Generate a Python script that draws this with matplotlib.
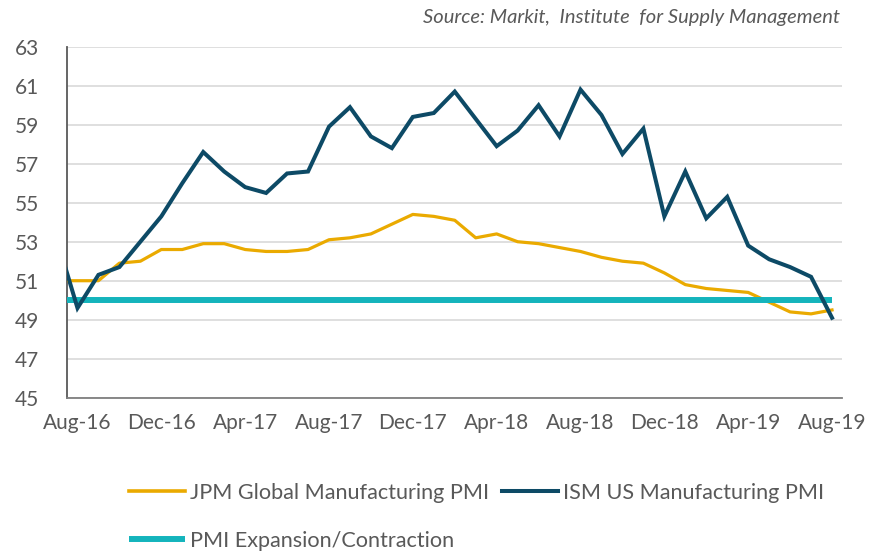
import matplotlib
matplotlib.use("Agg")
import matplotlib.pyplot as plt
import numpy as np

plt.rcParams['font.family'] = ['Lato', 'DejaVu Sans']

# Monthly index: Jul-16 = -1, Aug-16 = 0 ... Aug-19 = 36
months = ["Jul-16", "Aug-16", "Sep-16", "Oct-16", "Nov-16", "Dec-16",
          "Jan-17", "Feb-17", "Mar-17", "Apr-17", "May-17", "Jun-17", "Jul-17", "Aug-17",
          "Sep-17", "Oct-17", "Nov-17", "Dec-17", "Jan-18", "Feb-18", "Mar-18", "Apr-18",
          "May-18", "Jun-18", "Jul-18", "Aug-18", "Sep-18", "Oct-18", "Nov-18", "Dec-18",
          "Jan-19", "Feb-19", "Mar-19", "Apr-19", "May-19", "Jun-19", "Jul-19", "Aug-19"]

jpm_global = [51.0, 51.0, 51.0, 51.9, 52.0, 52.6,
              52.6, 52.9, 52.9, 52.6, 52.5, 52.5, 52.6, 53.1,
              53.2, 53.4, 53.9, 54.4, 54.3, 54.1, 53.2, 53.4,
              53.0, 52.9, 52.7, 52.5, 52.2, 52.0, 51.9, 51.4,
              50.8, 50.6, 50.5, 50.4, 49.9, 49.4, 49.3, 49.5]

ism_us = [53.2, 49.6, 51.3, 51.7, 53.0, 54.3,
          56.0, 57.6, 56.6, 55.8, 55.5, 56.5, 56.6, 58.9,
          59.9, 58.4, 57.8, 59.4, 59.6, 60.7, 59.3, 57.9,
          58.7, 60.0, 58.4, 60.8, 59.5, 57.5, 58.8, 54.3,
          56.6, 54.2, 55.3, 52.8, 52.1, 51.7, 51.2, 49.1]

threshold = 50
tick_labels = ["Aug-16", "Dec-16", "Apr-17", "Aug-17", "Dec-17",
               "Apr-18", "Aug-18", "Dec-18", "Apr-19", "Aug-19"]
y_ticks = [45, 47, 49, 51, 53, 55, 57, 59, 61, 63]

x = np.arange(len(months)) - 1

fig = plt.figure(figsize=(8.69, 5.51), dpi=100)
ax = fig.add_axes([0.0771, 0.2782, 0.8924, 0.637])

c_jpm = "#EAAA00"
c_ism = "#0D4A66"
c_thr = "#14B4BC"

ax.plot(x, jpm_global, color=c_jpm, lw=2.3, solid_joinstyle='round',
        label="JPM Global Manufacturing PMI", zorder=3)
ax.plot(x, [threshold] * len(x), color=c_thr, lw=4.3,
        solid_capstyle='butt', label="PMI Expansion/Contraction", zorder=4)
ax.plot(x, ism_us, color=c_ism, lw=2.9, solid_joinstyle='miter',
        label="ISM US Manufacturing PMI", zorder=5)

ax.set_xlim(-0.5, 36.5)
ax.set_ylim(45, 63)
ax.set_yticks(y_ticks)
ax.set_xticks(np.arange(0, 37, 4))
ax.set_xticklabels(tick_labels)
ax.grid(axis='y', color='#D9D9D9', lw=1.2, zorder=0)
ax.set_axisbelow(True)
for s in ['top', 'right']:
    ax.spines[s].set_visible(False)
ax.spines['left'].set_color('#595959')
ax.spines['left'].set_linewidth(1.3)
ax.spines['bottom'].set_color('#7F7F7F')
ax.spines['bottom'].set_linewidth(1.3)
ax.tick_params(axis='both', length=0, labelsize=15, colors='#595959')
ax.tick_params(axis='y', pad=20)
ax.tick_params(axis='x', pad=11)

fig.text(0.967, 0.968, "Source: Markit,  Institute  for Supply Management",
         ha='right', va='center', style='italic', fontsize=14.5, color='#595959')

h, l = ax.get_legend_handles_labels()
leg = fig.legend(h, l, ncol=2,
                 loc='upper left', bbox_to_anchor=(0.149, 0.124),
                 frameon=False, fontsize=15.6, handlelength=2.55, handletextpad=0.25,
                 columnspacing=0.6, labelspacing=1.3, labelcolor='#595959',
                 borderpad=0, borderaxespad=0)
leg.legend_handles[0].set_linewidth(2.6)
leg.legend_handles[1].set_linewidth(4.3)
leg.legend_handles[2].set_linewidth(2.9)

fig.savefig("out.png", dpi=100)
